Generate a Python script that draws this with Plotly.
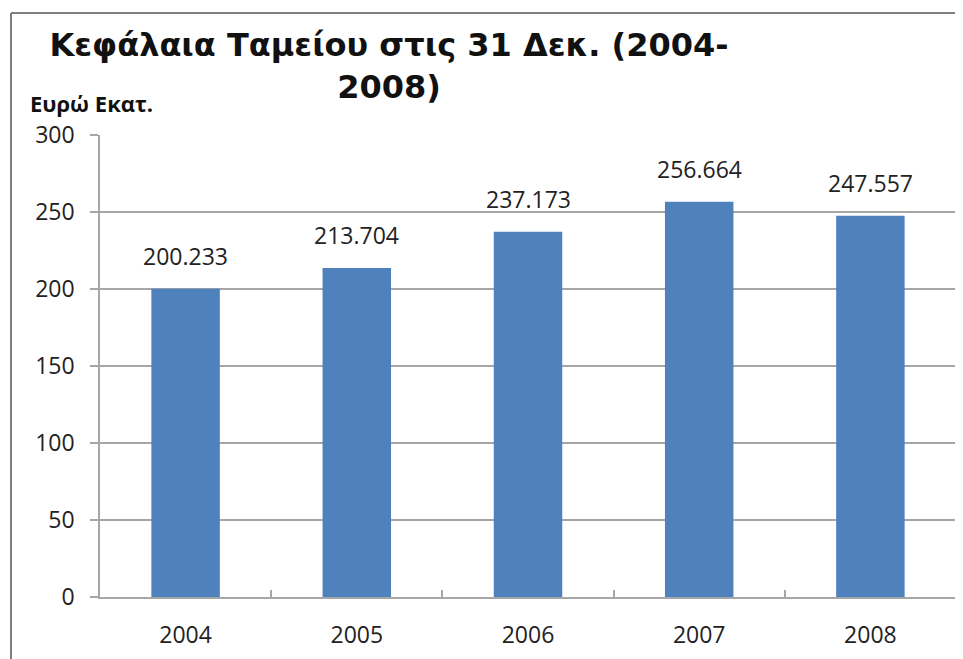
import plotly.graph_objects as go

years = ["2004", "2005", "2006", "2007", "2008"]
values = [200.233, 213.704, 237.173, 256.664, 247.557]
value_labels = ["200.233", "213.704", "237.173", "256.664", "247.557"]
y_ticks = [0, 50, 100, 150, 200, 250, 300]

# page has an 8px body margin, so the figure is drawn 8px right/down
W, H = 955, 651
L, R, T, B = 92, 7, 127, 62
pw = W - L - R
ph = H - T - B

fig = go.Figure()
fig.add_trace(go.Bar(
    x=years, y=values,
    marker=dict(color="#4F81BD", line=dict(width=0)),
    width=0.4,
    hoverinfo="x+y",
))

for i, (v, lab) in enumerate(zip(values, value_labels)):
    fig.add_annotation(
        x=i, y=v, text=lab, xref="x", yref="y",
        showarrow=False, yanchor="bottom", yshift=15,
        font=dict(family="Open Sans", size=23, color="#222222"),
    )

fig.update_layout(
    width=W, height=H,
    margin=dict(l=L, r=R, t=T, b=B, autoexpand=False),
    paper_bgcolor="white", plot_bgcolor="white",
    showlegend=False,
    title=dict(
        text="<b>Κεφάλαια Ταμείου στις 31 Δεκ. (2004-<br>2008)</b>",
        x=381 / W, xanchor="center", xref="container",
        y=1 - 48 / H, yanchor="top", yref="container",
        font=dict(family="DejaVu Sans", size=32, color="#111111"),
    ),
    xaxis=dict(
        type="category",
        categoryorder="array", categoryarray=years,
        range=[-0.5, len(years) - 0.5],
        showgrid=False,
        showline=True, linecolor="#A6A6A6", linewidth=1.5,
        ticks="inside", tickson="boundaries", ticklen=7, tickcolor="#A6A6A6",
        tickwidth=1.5, tickangle=0, ticklabelstandoff=17,
        tickfont=dict(family="Open Sans", size=23, color="#222222"),
    ),
    yaxis=dict(
        range=[0, 300],
        tickvals=y_ticks,
        showgrid=True, gridcolor="#A6A6A6", gridwidth=1.5,
        showline=True, linecolor="#A6A6A6", linewidth=1.5,
        ticks="outside", ticklen=8, tickcolor="#A6A6A6", tickwidth=1.5,
        ticklabelstandoff=11,
        tickfont=dict(family="Open Sans", size=23, color="#222222"),
        zeroline=False,
    ),
    bargap=0.6,
)

fig.add_annotation(
    text="<b>Ευρώ Εκατ.</b>", xref="paper", yref="paper",
    x=(20 - L) / pw, y=(H - B - 95) / ph,
    xanchor="left", yanchor="middle", showarrow=False,
    font=dict(family="Open Sans", size=22, color="#111111"),
)

# chart frame (left and top edges)
fx = (3 - L) / pw
fy = (H - B - 5) / ph
fig.add_shape(type="line", xref="paper", yref="paper",
              x0=fx, x1=fx, y0=fy, y1=(H - B - 700) / ph,
              line=dict(color="#7F7F7F", width=2))
fig.add_shape(type="line", xref="paper", yref="paper",
              x0=fx, x1=(1000 - L) / pw, y0=fy, y1=fy,
              line=dict(color="#7F7F7F", width=2))

fig.write_html("out.html")
